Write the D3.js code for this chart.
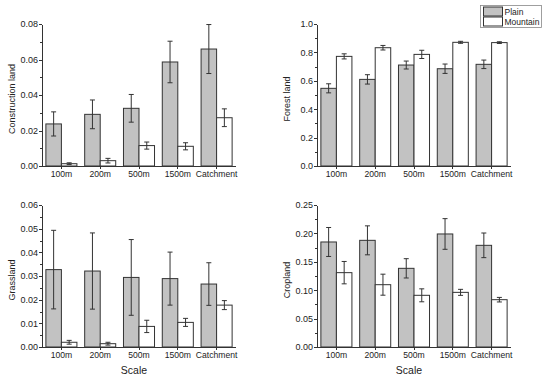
<!DOCTYPE html>
<html>
<head>
<script src="https://d3js.org/d3.v7.min.js"></script>
<style>
	body, html { margin: 0; padding: 0; background: #fff; }
	svg text { font-family: "Liberation Sans", Arial, sans-serif; fill: #222; }
	.bar-plain { fill: #c2c2c2; stroke: #333; stroke-width: 1; }
	.bar-mountain { fill: #fff; stroke: #333; stroke-width: 1; }
	.err { stroke: #333; stroke-width: 1; fill: none; }
	.axis path, .axis line { stroke: #333; fill: none; shape-rendering: crispEdges; }
</style>
</head>
<body>
<script>
	var scales = ["100m", "200m", "500m", "1500m", "Catchment"];
	var seriesNames = ["Plain", "Mountain"];

	// mean values and errors per panel
	var constructionPlain = [0.0237, 0.0291, 0.0325, 0.0586, 0.0659];
	var constructionPlainErr = [0.0068, 0.0081, 0.0078, 0.0117, 0.0138];
	var constructionMountain = [0.0013, 0.0030, 0.0115, 0.0111, 0.0272];
	var constructionMountainErr = [0.0005, 0.0013, 0.0020, 0.0020, 0.0050];

	var forestPlain = [0.547, 0.610, 0.711, 0.685, 0.716];
	var forestPlainErr = [0.032, 0.033, 0.028, 0.033, 0.030];
	var forestMountain = [0.772, 0.833, 0.786, 0.871, 0.869];
	var forestMountainErr = [0.018, 0.016, 0.029, 0.007, 0.006];

	var grassPlain = [0.0327, 0.0321, 0.0294, 0.0289, 0.0266];
	var grassPlainErr = [0.0166, 0.0161, 0.0160, 0.0112, 0.0090];
	var grassMountain = [0.0020, 0.0014, 0.0087, 0.0104, 0.0177];
	var grassMountainErr = [0.0008, 0.0006, 0.0026, 0.0017, 0.0019];

	var cropPlain = [0.1849, 0.1878, 0.1385, 0.1990, 0.1790];
	var cropPlainErr = [0.0255, 0.0255, 0.0170, 0.0270, 0.0217];
	var cropMountain = [0.1309, 0.1097, 0.0910, 0.0962, 0.0833];
	var cropMountainErr = [0.0197, 0.0185, 0.0114, 0.0053, 0.0040];

	var constructionTicks = [0, 0.02, 0.04, 0.06, 0.08];
	var forestTicks = [0, 0.2, 0.4, 0.6, 0.8, 1.0];
	var grassTicks = [0, 0.01, 0.02, 0.03, 0.04, 0.05, 0.06];
	var cropTicks = [0, 0.05, 0.10, 0.15, 0.20, 0.25];

	var panels = [
		{ title: "Construction land", plain: constructionPlain, plainErr: constructionPlainErr,
		  mountain: constructionMountain, mountainErr: constructionMountainErr,
		  ticks: constructionTicks, fmt: ".2f", ox: 0, oy: 0, xTitle: false, legend: false },
		{ title: "Forest land", plain: forestPlain, plainErr: forestPlainErr,
		  mountain: forestMountain, mountainErr: forestMountainErr,
		  ticks: forestTicks, fmt: ".1f", ox: 275, oy: 0, xTitle: false, legend: true },
		{ title: "Grassland", plain: grassPlain, plainErr: grassPlainErr,
		  mountain: grassMountain, mountainErr: grassMountainErr,
		  ticks: grassTicks, fmt: ".2f", ox: 0, oy: 181, xTitle: true, legend: false },
		{ title: "Cropland", plain: cropPlain, plainErr: cropPlainErr,
		  mountain: cropMountain, mountainErr: cropMountainErr,
		  ticks: cropTicks, fmt: ".2f", ox: 275, oy: 181, xTitle: true, legend: false }
	];

	var w = 550, h = 379;
	var mLeft = 42, mRight = 236, mTop = 24, mBottom = 166;

	var svg = d3.select("body").append("svg")
		.attr("width", w)
		.attr("height", h);

	function plot(p) {
		var g = svg.append("g").attr("transform", "translate(" + p.ox + "," + p.oy + ")");

		var x = d3.scaleBand().domain(scales).range([mLeft, mRight])
			.paddingInner(0.2).paddingOuter(0.1);
		var xs = d3.scaleBand().domain(seriesNames).range([0, x.bandwidth()]);
		var ymax = p.ticks[p.ticks.length - 1];
		var y = d3.scaleLinear().domain([0, ymax]).range([mBottom, mTop]);

		var rows = scales.map(function(s, i) {
			return [
				{ key: s, series: "Plain", v: p.plain[i], e: p.plainErr[i] },
				{ key: s, series: "Mountain", v: p.mountain[i], e: p.mountainErr[i] }
			];
		});
		var flat = [].concat.apply([], rows);

		g.selectAll(".bar").data(flat).enter()
			.append("rect")
			.attr("class", function(d) { return d.series == "Plain" ? "bar-plain" : "bar-mountain"; })
			.attr("x", function(d) { return x(d.key) + xs(d.series); })
			.attr("y", function(d) { return y(d.v); })
			.attr("width", xs.bandwidth())
			.attr("height", function(d) { return y(0) - y(d.v); });

		var cap = 2.5;
		function cx(d) { return x(d.key) + xs(d.series) + xs.bandwidth() / 2; }
		var eb = g.selectAll(".errbar").data(flat).enter().append("g");
		eb.append("line").attr("class", "err")
			.attr("x1", cx).attr("x2", cx)
			.attr("y1", function(d) { return y(d.v - d.e); })
			.attr("y2", function(d) { return y(d.v + d.e); });
		[1, -1].forEach(function(sign) {
			eb.append("line").attr("class", "err")
				.attr("x1", function(d) { return cx(d) - cap; })
				.attr("x2", function(d) { return cx(d) + cap; })
				.attr("y1", function(d) { return y(d.v + sign * d.e); })
				.attr("y2", function(d) { return y(d.v + sign * d.e); });
		});

		// minor ticks
		var minor = [];
		for (var i = 0; i < p.ticks.length - 1; i++) minor.push((p.ticks[i] + p.ticks[i + 1]) / 2);
		g.append("g").attr("class", "axis")
			.attr("transform", "translate(" + mLeft + ",0)")
			.call(d3.axisLeft(y).tickValues(minor).tickSize(2).tickFormat(""))
			.select(".domain").remove();

		var yAxis = g.append("g").attr("class", "axis")
			.attr("transform", "translate(" + mLeft + ",0)")
			.call(d3.axisLeft(y).tickValues(p.ticks).tickSize(3).tickSizeOuter(0).tickFormat(d3.format(p.fmt)));
		yAxis.selectAll("text").style("font-size", "9px").attr("x", -4);

		var xAxis = g.append("g").attr("class", "axis")
			.attr("transform", "translate(0," + mBottom + ")")
			.call(d3.axisBottom(x).tickSize(3).tickSizeOuter(0));
		xAxis.select(".domain").attr("d", "M" + mLeft + ",0.5H" + mRight);
		xAxis.selectAll("text").style("font-size", "8.6px").attr("y", 5);

		g.append("text")
			.attr("transform", "translate(15," + 99 + ") rotate(-90)")
			.attr("text-anchor", "middle")
			.style("font-size", "9px")
			.text(p.title);

		if (p.xTitle) {
			g.append("text")
				.attr("x", 134)
				.attr("y", 193)
				.attr("text-anchor", "middle")
				.style("font-size", "10.5px")
				.text("Scale");
		}

		if (p.legend) {
			var lg = g.append("g").attr("transform", "translate(205.5,5.5)");
			lg.append("rect").attr("width", 61).attr("height", 22)
				.attr("fill", "#fff").attr("stroke", "#888").attr("stroke-width", 0.8);
			seriesNames.forEach(function(s, i) {
				lg.append("rect")
					.attr("class", i == 0 ? "bar-plain" : "bar-mountain")
					.attr("x", 3).attr("y", 1.5 + i * 10)
					.attr("width", 19).attr("height", 9);
				lg.append("text")
					.attr("x", 24).attr("y", 9 + i * 10)
					.style("font-size", "8.5px")
					.text(s);
			});
		}
	}

	panels.forEach(plot);
</script>
</body>
</html>
